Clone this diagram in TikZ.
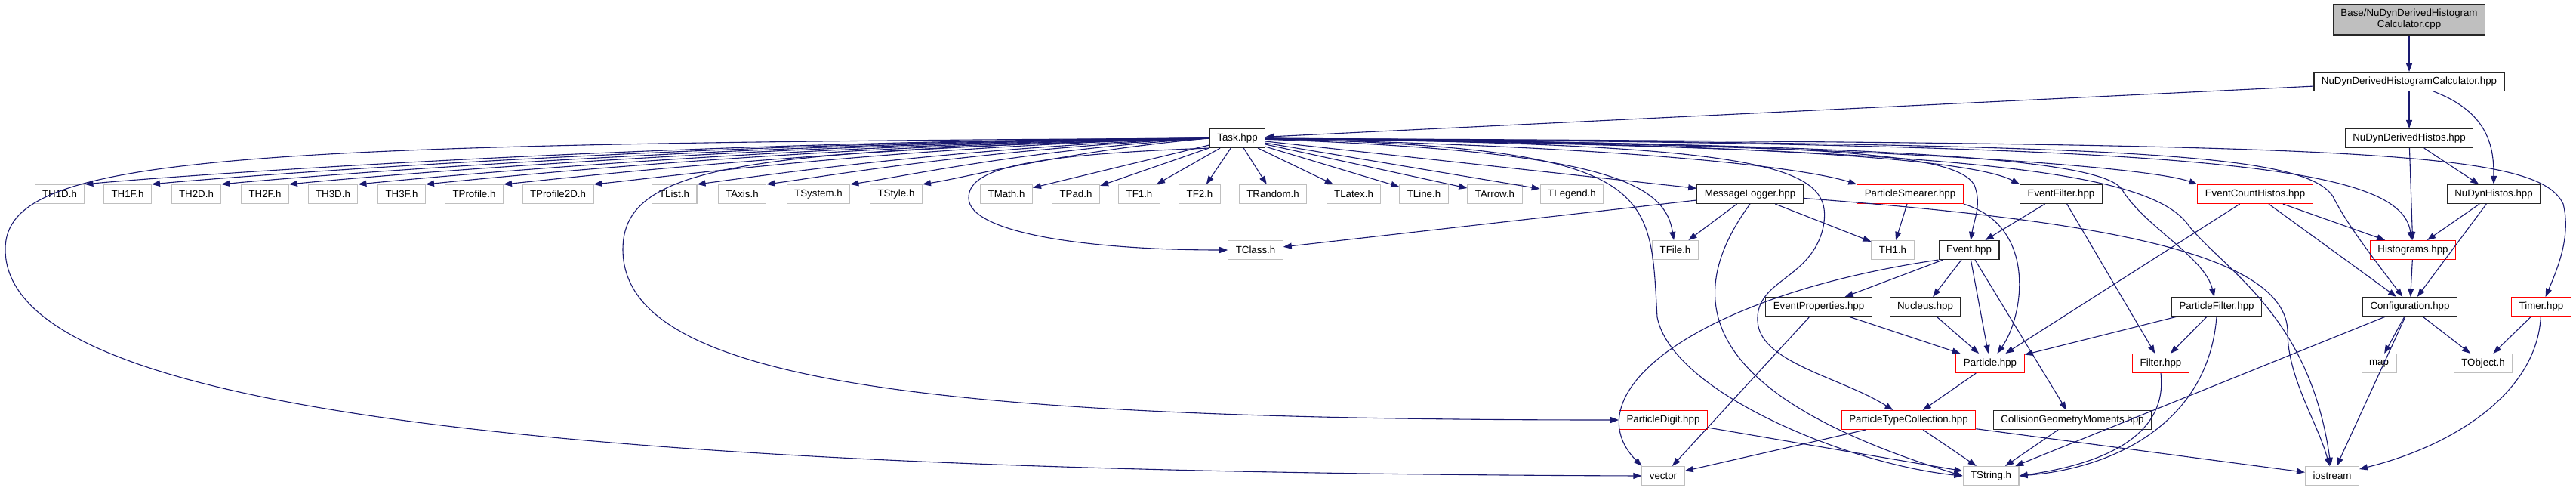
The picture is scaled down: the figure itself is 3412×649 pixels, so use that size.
\documentclass[tikz,border=0pt]{standalone}
\usepackage{fontspec}
\setmainfont{Liberation Sans}
\usetikzlibrary{arrows.meta}
\definecolor{edgeblue}{RGB}{25,25,112}
\definecolor{sysgrey}{RGB}{191,191,191}

\begin{document}
\begin{tikzpicture}[x=1pt, y=-1pt,
    file/.style={rectangle, draw, line width=1.1pt, minimum height=25pt, inner xsep=10pt, inner ysep=2pt, font=\fontsize{13.3}{15}\selectfont},
    sys/.style={file, draw=sysgrey},
    hdr/.style={file, draw=black!85},
    trunc/.style={file, draw=red},
    topfile/.style={file, draw=black!85, fill=sysgrey, align=center, minimum height=40pt},
    dep/.style={-{Triangle[length=11pt,width=8pt]}, draw=edgeblue, line width=1.1pt}
]
    \useasboundingbox (0,0) rectangle (3412,649);

    % Source file and its direct headers
    \node[topfile] (root) at (3191,26) {Base/NuDynDerivedHistogram\\Calculator.cpp};
    \node[hdr] (calc) at (3191,108) {NuDynDerivedHistogramCalculator.hpp};
    \node[hdr] (ndh) at (3191,183) {NuDynDerivedHistos.hpp};
    \node[hdr] (task) at (1639,183) {Task.hpp};

    % ROOT headers
    \node[sys] (th1d) at (79,257) {TH1D.h};
    \node[sys] (th1f) at (169,257) {TH1F.h};
    \node[sys] (th2d) at (260,257) {TH2D.h};
    \node[sys] (th2f) at (351,257) {TH2F.h};
    \node[sys] (th3d) at (441,257) {TH3D.h};
    \node[sys] (th3f) at (532,257) {TH3F.h};
    \node[sys] (tprofile) at (628,257) {TProfile.h};
    \node[sys] (tprofiled) at (739,257) {TProfile2D.h};
    \node[sys] (tlist) at (893,257) {TList.h};
    \node[sys] (taxis) at (983,257) {TAxis.h};
    \node[sys] (tsystem) at (1084,257) {TSystem.h};
    \node[sys] (tstyle) at (1187,257) {TStyle.h};
    \node[sys] (tmath) at (1333,257) {TMath.h};
    \node[sys] (tpad) at (1425,257) {TPad.h};
    \node[sys] (tfone) at (1509,257) {TF1.h};
    \node[sys] (tftwo) at (1589,257) {TF2.h};
    \node[sys] (trandom) at (1686,257) {TRandom.h};
    \node[sys] (tlatex) at (1793,257) {TLatex.h};
    \node[sys] (tline) at (1886,257) {TLine.h};
    \node[sys] (tarrow) at (1980,257) {TArrow.h};
    \node[sys] (tlegend) at (2082,257) {TLegend.h};

    % Project headers, second row
    \node[hdr] (msglog) at (2318,257) {MessageLogger.hpp};
    \node[trunc] (psmear) at (2530,257) {ParticleSmearer.hpp};
    \node[hdr] (evfilter) at (2730,257) {EventFilter.hpp};
    \node[trunc] (echisto) at (2987,257) {EventCountHistos.hpp};
    \node[hdr] (nh) at (3303,257) {NuDynHistos.hpp};

    \node[sys] (tclass) at (1663,331) {TClass.h};
    \node[sys] (tfile) at (2219,331) {TFile.h};
    \node[sys] (thone) at (2507,331) {TH1.h};
    \node[hdr] (event) at (2608,331) {Event.hpp};
    \node[trunc] (hist) at (3196,331) {Histograms.hpp};

    \node[hdr] (evprop) at (2409,406) {EventProperties.hpp};
    \node[hdr] (nucleus) at (2550,406) {Nucleus.hpp};
    \node[hdr] (pfilter) at (2936,406) {ParticleFilter.hpp};
    \node[hdr] (config) at (3192,406) {Configuration.hpp};
    \node[trunc] (timer) at (3366,406) {Timer.hpp};

    \node[trunc] (particle) at (2636,481) {Particle.hpp};
    \node[trunc] (filter) at (2862,481) {Filter.hpp};
    \node[sys] (map) at (3151,481) {map};
    \node[sys] (tobject) at (3289,481) {TObject.h};

    \node[trunc] (pdigit) at (2203,556) {ParticleDigit.hpp};
    \node[trunc] (ptc) at (2528,556) {ParticleTypeCollection.hpp};
    \node[hdr] (cgm) at (2745,556) {CollisionGeometryMoments.hpp};

    \node[sys] (vector) at (2203,630) {vector};
    \node[sys] (tstring) at (2637,630) {TString.h};
    \node[sys] (iostream) at (3089,630) {iostream};

    % Top of the graph
    \draw[dep] (root) -- (calc);
    \draw[dep] (calc) -- (task);
    \draw[dep] (calc) -- (ndh);
    \draw[dep] (calc.-22) .. controls (3300,150) and (3303,200) .. (nh);
    \draw[dep] (ndh) -- (nh);
    \draw[dep] (ndh) -- (hist);
    \draw[dep] (nh) -- (hist);
    \draw[dep] (nh) -- (config);
    \draw[dep] (hist) -- (config);

    % Task.hpp to ROOT headers
    \draw[dep] (task.west) .. controls (850,186) and (193,236) .. (th1d.north east);
    \draw[dep] (task.west) .. controls (900,187) and (281,236) .. (th1f.north east);
    \draw[dep] (task.west) .. controls (950,188) and (374,236) .. (th2d.north east);
    \draw[dep] (task.west) .. controls (990,189) and (463,236) .. (th2f.north east);
    \draw[dep] (task.west) .. controls (1040,190) and (555,236) .. (th3d.north east);
    \draw[dep] (task.west) .. controls (1080,191) and (644,236) .. (th3f.north east);
    \draw[dep] (task.west) .. controls (1130,192) and (748,236) .. (tprofile.north east);
    \draw[dep] (task.west) .. controls (1190,193) and (866,236) .. (tprofiled.north east);
    \draw[dep] (task.west) .. controls (1260,195) and (1000,234) .. (tlist.north east);
    \draw[dep] (task.west) .. controls (1310,196) and (1090,234) .. (taxis.north east);
    \draw[dep] (task.west) .. controls (1360,198) and (1195,234) .. (tsystem.north east);
    \draw[dep] (task.west) .. controls (1410,200) and (1285,234) .. (tstyle.north east);
    \draw[dep] (task) -- (tmath);
    \draw[dep] (task) -- (tpad);
    \draw[dep] (task) -- (tfone);
    \draw[dep] (task) -- (tftwo);
    \draw[dep] (task) -- (trandom);
    \draw[dep] (task) -- (tlatex);
    \draw[dep] (task) -- (tline);
    \draw[dep] (task) -- (tarrow);
    \draw[dep] (task) -- (tlegend);
    \draw[dep] (task.south west) .. controls (1350,205) and (1283,225) .. (1283,262) .. controls (1283,310) and (1450,331) .. (tclass.west);
    \draw[dep] (task) .. controls (2120,200) and (2205,240) .. (tfile);
    \draw[dep] (task.west) .. controls (300,190) and (7,205) .. (7,330) .. controls (7,540) and (700,625) .. (vector.west);
    \draw[dep] (task.west) .. controls (1000,200) and (825,215) .. (825,330) .. controls (825,500) and (1200,556) .. (pdigit.west);
    \draw[dep] (task) .. controls (2200,195) and (2185,250) .. (2195,420) .. controls (2215,520) and (2450,615) .. (tstring.west);

    % Task.hpp to project headers
    \draw[dep] (task) -- (msglog);
    \draw[dep] (task) .. controls (2200,195) and (2400,225) .. (psmear.north west);
    \draw[dep] (task) .. controls (2400,190) and (2620,215) .. (evfilter.north west);
    \draw[dep] (task) .. controls (2500,190) and (2850,222) .. (echisto.north west);
    \draw[dep] (task) .. controls (2900,190) and (3180,215) .. (hist);
    \draw[dep] (task) .. controls (2800,190) and (3050,200) .. (3090,260) .. controls (3110,300) and (3150,350) .. (config);
    \draw[dep] (task) .. controls (3100,190) and (3360,195) .. (3395,270) .. controls (3405,310) and (3390,350) .. (timer);
    \draw[dep] (task) .. controls (2400,190) and (2590,200) .. (2615,245) .. controls (2625,270) and (2615,290) .. (event);
    \draw[dep] (task) .. controls (2500,190) and (2780,210) .. (2810,250) .. controls (2840,300) and (2920,340) .. (pfilter);
    \draw[dep] (task) .. controls (2350,190) and (2430,220) .. (2415,300) .. controls (2400,370) and (2325,370) .. (2328,425) .. controls (2330,480) and (2440,500) .. (ptc);
    \draw[dep] (task) .. controls (2600,195) and (2850,225) .. (2900,300) .. controls (2950,360) and (3060,420) .. (iostream);

    % MessageLogger.hpp
    \draw[dep] (msglog) -- (tclass);
    \draw[dep] (msglog) -- (tfile);
    \draw[dep] (msglog) -- (thone);
    \draw[dep] (msglog.south) .. controls (2230,390) and (2240,520) .. (tstring.west);
    \draw[dep] (msglog) .. controls (2750,290) and (3030,330) .. (3030,440) .. controls (3030,500) and (3070,560) .. (iostream);

    % Particle smearer, filters, histos
    \draw[dep] (psmear) -- (thone);
    \draw[dep] (psmear.south east) .. controls (2700,300) and (2680,420) .. (particle);
    \draw[dep] (evfilter) -- (event);
    \draw[dep] (evfilter) -- (filter);
    \draw[dep] (echisto) -- (particle);
    \draw[dep] (echisto) -- (config);
    \draw[dep] (echisto) -- (hist);

    % Event.hpp
    \draw[dep] (event) -- (evprop);
    \draw[dep] (event) -- (nucleus);
    \draw[dep] (event) -- (particle);
    \draw[dep] (event) -- (cgm);
    \draw[dep] (event.south west) .. controls (2250,390) and (2080,520) .. (vector.north west);
    \draw[dep] (evprop) -- (particle);
    \draw[dep] (evprop) -- (vector);
    \draw[dep] (nucleus) -- (particle);

    % ParticleFilter.hpp, Particle.hpp and the rest
    \draw[dep] (pfilter) -- (particle);
    \draw[dep] (pfilter) -- (filter);
    \draw[dep] (pfilter.south) .. controls (2925,560) and (2800,620) .. (tstring.east);
    \draw[dep] (filter.south) .. controls (2872,580) and (2780,615) .. (tstring.east);
    \draw[dep] (particle) -- (ptc);
    \draw[dep] (ptc) -- (vector);
    \draw[dep] (ptc) -- (tstring);
    \draw[dep] (ptc) -- (iostream);
    \draw[dep] (cgm) -- (tstring);
    \draw[dep] (pdigit) -- (tstring);

    % Configuration.hpp and Timer.hpp
    \draw[dep] (config) -- (map);
    \draw[dep] (config) -- (tobject);
    \draw[dep] (config) -- (iostream);
    \draw[dep] (config) -- (tstring);
    \draw[dep] (timer) -- (tobject);
    \draw[dep] (timer) .. controls (3360,520) and (3250,590) .. (iostream);
\end{tikzpicture}
\end{document}
